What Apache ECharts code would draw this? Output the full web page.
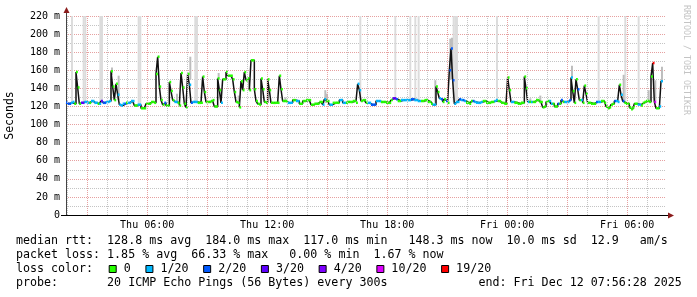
<!DOCTYPE html>
<html><head><meta charset="utf-8">
<script src="https://cdn.jsdelivr.net/npm/echarts@6/dist/echarts.min.js"></script>
<style>html,body{margin:0;padding:0;background:#fff}#c{width:697px;height:297px}</style>
</head><body><div id="c"></div>
<script>
// ---- data ----
const STEP_MIN = 5;                 // 300 s steps
const START_MIN = 116 + 28 / 60;    // Thu 01:56:28, minutes after Thu 00:00
const SPAN_MIN = 1800;              // 30 h window

const median = [
124,123,123,124,125,123,158,141,123,124,
124,125,125,124,124,126,126,124,124,123,
123,126,124,124,125,125,126,159,142,127,
145,133,122,121,123,123,124,124,124,126,
126,121,121,122,122,118,118,118,123,123,
123,125,125,124,156,175,142,127,122,124,
121,121,147,137,127,125,125,124,121,157,
141,123,119,156,144,124,125,125,125,124,
124,124,153,136,125,125,125,126,127,120,
120,151,138,124,150,150,158,154,154,154,
150,136,125,124,119,148,138,158,149,151,
138,171,171,139,126,123,122,151,139,125,
124,150,138,124,124,124,124,124,154,139,
126,126,126,124,124,124,127,127,126,126,
123,123,126,126,127,127,127,122,122,123,
123,123,125,125,122,128,126,126,122,122,
124,124,124,124,127,127,124,124,124,125,
125,125,126,126,124,145,138,126,127,127,
124,124,124,122,122,122,126,126,126,125,
125,125,124,124,124,127,129,129,128,126,
126,127,127,127,127,127,127,128,128,127,
127,126,126,126,126,127,127,125,125,123,
122,122,142,136,129,128,125,128,126,124,
160,184,149,123,125,125,128,127,127,126,
124,124,123,126,126,125,124,124,124,125,
126,126,124,124,124,125,125,126,127,126,
126,124,124,123,123,152,138,125,125,124,
124,123,123,124,124,153,140,125,125,125,
125,125,127,127,125,125,119,120,125,126,
126,123,123,120,120,123,123,127,125,125,
125,125,127,152,137,124,150,139,127,127,
124,143,134,124,124,123,123,123,125,125,
125,126,126,124,120,118,119,122,123,126,
126,125,144,133,126,124,123,123,119,117,
119,123,123,122,122,121,124,125,126,126,
125,153,168,125,118,118,120,148
];

// lost pings out of 20 per step
const loss = [
2,2,2,1,1,0,0,0,0,3,
3,1,1,1,0,1,1,1,1,0,
1,3,2,2,1,1,1,0,0,0,
0,1,1,1,1,2,0,1,1,1,
1,0,0,1,1,0,0,0,0,0,
0,0,0,0,0,0,0,0,0,2,
0,0,0,0,0,1,1,0,0,0,
0,0,0,0,1,2,1,1,1,0,
0,0,0,0,0,0,0,0,0,0,
0,0,0,1,0,0,0,0,0,0,
0,0,0,0,0,0,0,0,0,0,
0,0,0,0,0,0,0,0,0,0,
0,0,0,0,0,0,0,0,0,0,
0,0,0,1,1,1,0,0,1,1,
0,0,0,0,0,0,0,0,0,0,
0,0,0,0,1,1,0,0,1,1,
0,0,0,0,1,1,1,1,0,0,
0,0,0,0,0,1,1,0,0,0,
0,1,1,2,2,2,1,1,1,0,
0,0,0,0,0,0,3,3,2,0,
0,1,1,1,1,1,1,2,2,1,
1,1,1,0,0,0,0,0,0,0,
1,1,0,0,1,2,0,0,2,0,
2,2,2,1,1,1,2,1,2,1,
0,0,0,0,2,1,1,1,1,1,
0,0,0,0,0,0,0,1,1,0,
0,0,0,0,0,0,0,1,1,0,
0,0,0,0,0,0,0,1,0,1,
0,0,0,0,0,0,0,0,0,0,
1,1,0,0,0,2,0,2,0,1,
1,1,2,1,0,0,0,2,0,1,
0,0,0,0,0,0,0,0,2,1,
1,0,0,0,0,0,0,0,0,2,
1,1,0,1,2,0,0,0,0,0,
0,0,0,1,1,0,0,0,0,0,
0,0,19,10,0,0,1,1
];

const lossLevels = [0, 1, 2, 3, 4, 10, 19];
const lossLabels = ['0', '1/20', '2/20', '3/20', '4/20', '10/20', '19/20'];
const lossColors = ['#26ff00', '#00b8ff', '#0059ff', '#5e00ff', '#7e00ff', '#dd00ff', '#ff0000'];

// smoke reaching the top of the graph: [step, low ms]
const tallSmoke = [[3,125],[10,125],[11,125],[20,124],[21,124],[43,123],[44,123],[77,126],[78,126],
  [176,127],[197,128],[206,128],[209,128],[211,128],[232,125],[233,124],[234,124],[258,127],
  [319,125],[335,125],[343,123]];
// visible ping spread: [step, low ms, high ms]
const midSmoke = [[27,155,163],[31,127,154],[66,124,134],[74,150,175],[91,150,157],[103,124,132],
  [131,125,130],[155,124,138],[156,124,134],[221,124,149],[230,150,195],[231,150,196],
  [278,124,129],[284,125,132],[303,152,165],[334,127,155],[349,126,138],[353,126,149],[357,149,164]];

const hourTicks = [];      // minutes after Thu 00:00 of each full hour in the window
for (let h = 2; h <= 31; h++) hourTicks.push(h * 60);
const timeLabelMinutes = [360, 720, 1080, 1440, 1800];
const timeLabels = ['Thu 06:00', 'Thu 12:00', 'Thu 18:00', 'Fri 00:00', 'Fri 06:00'];

const statsLines = [
  'median rtt:  128.8 ms avg  184.0 ms max  117.0 ms min   148.3 ms now  10.0 ms sd  12.9   am/s',
  'packet loss: 1.85 % avg  66.33 % max   0.00 % min  1.67 % now',
  'loss color:',
  'probe:       20 ICMP Echo Pings (56 Bytes) every 300s             end: Fri Dec 12 07:56:28 2025'
];

// ---- build ----
const MONO = '"DejaVu Sans Mono", monospace';
function colorIdx(l) { let k = 0; lossLevels.forEach((lv, j) => { if (l >= lv) k = j; }); return k; }
const tOf = i => START_MIN + i * STEP_MIN;

const lineData = median.map((v, i) => [tOf(i), v]);
lineData.push([tOf(median.length), median[median.length - 1]]);
const segData = median.map((v, i) => [tOf(i), v, colorIdx(loss[i])]);
const tallData = tallSmoke.map(([i, lo]) => [tOf(i), lo, 220]);
const midData = midSmoke.map(([i, lo, hi]) => [tOf(i), lo, hi]);

function rectItem(fill) {
  return function (params, api) {
    const t = api.value(0), lo = api.value(1), hi = api.value(2);
    const a = api.coord([t, hi]), b = api.coord([t + STEP_MIN, lo]);
    return { type: 'rect', shape: { x: a[0], y: a[1], width: b[0] - a[0] + 0.3, height: b[1] - a[1] },
      style: { fill: fill } };
  };
}

const minorHours = hourTicks.filter(m => m % 180 !== 0);
const majorHours = hourTicks.filter(m => m % 180 === 0);
const vGrid = (vals, color) => ({
  silent: true, symbol: ['none', 'none'], label: { show: false }, animation: false,
  lineStyle: { color: color, width: 1, type: [1, 1] },
  data: vals.map(m => ({ xAxis: m }))
});

const chart = echarts.init(document.getElementById('c'), null, { renderer: 'canvas' });
chart.setOption({
  animation: false,
  backgroundColor: '#ffffff',
  grid: { left: 66, right: 31, top: 16, bottom: 82, containLabel: false, outerBoundsMode: 'none' },
  xAxis: {
    type: 'value', min: START_MIN, max: START_MIN + SPAN_MIN,
    axisLine: { show: true, onZero: false, lineStyle: { color: '#000', width: 1 } },
    axisTick: { show: false },
    splitLine: { show: false },
    axisLabel: { show: true, customValues: timeLabelMinutes, margin: 5,
      formatter: v => timeLabels[timeLabelMinutes.indexOf(Math.round(v))] || '',
      fontFamily: MONO, fontSize: 10, color: '#000' }
  },
  yAxis: {
    type: 'value', min: 0, max: 220, interval: 20,
    name: 'Seconds', nameLocation: 'middle', nameGap: 50, nameRotate: 90,
    nameTextStyle: { fontFamily: MONO, fontSize: 11.5, color: '#000' },
    axisLine: { show: true, onZero: false, lineStyle: { color: '#444', width: 1 } },
    axisTick: { show: false },
    axisLabel: { margin: 6, fontFamily: MONO, fontSize: 10, color: '#000',
      formatter: v => (v === 0 ? '0' : v + ' m') },
    splitLine: { show: true, lineStyle: { color: '#e6a0a0', width: 1, type: [1, 1] } },
    minorTick: { show: false, splitNumber: 2 },
    minorSplitLine: { show: true, lineStyle: { color: '#c4c4c4', width: 1, type: [1, 1] } }
  },
  series: [
    { type: 'line', name: 'grid-minor', data: [], z: 0, silent: true, markLine: vGrid(minorHours, '#c4c4c4') },
    { type: 'line', name: 'grid-major', data: [], z: 0, silent: true, markLine: vGrid(majorHours, '#e6a0a0') },
    { type: 'custom', name: 'smoke-tall', renderItem: rectItem('#dcdcdc'), data: tallData,
      encode: { x: 0, y: [1, 2] }, clip: true, silent: true, z: 1 },
    { type: 'custom', name: 'smoke', renderItem: rectItem('#bdbdbd'), data: midData,
      encode: { x: 0, y: [1, 2] }, clip: true, silent: true, z: 2 },
    { type: 'line', name: 'median', data: lineData, step: 'end', showSymbol: false, symbol: 'none',
      lineStyle: { color: '#111', width: 1.5 }, silent: true, z: 3 },
    { type: 'custom', name: 'loss', data: segData, encode: { x: 0, y: 1 }, clip: true, silent: true, z: 4,
      renderItem: (params, api) => {
        const t = api.value(0), v = api.value(1), k = api.value(2);
        const a = api.coord([t, v]), b = api.coord([t + STEP_MIN, v]);
        return { type: 'rect', shape: { x: a[0], y: a[1] - 1.25, width: b[0] - a[0] + 0.2, height: 2.5 },
          style: { fill: lossColors[k] } };
      } }
  ]
});

// ---- decorations: axis arrows, legend, texts ----
const origin = chart.convertToPixel({ xAxisIndex: 0, yAxisIndex: 0 }, [START_MIN, 0]);
const topPt = chart.convertToPixel({ xAxisIndex: 0, yAxisIndex: 0 }, [START_MIN, 220]);
const endPt = chart.convertToPixel({ xAxisIndex: 0, yAxisIndex: 0 }, [START_MIN + SPAN_MIN, 0]);
const ox = Math.round(origin[0]) + 0.5, oy = Math.round(origin[1]) + 0.5;
const g = [];
g.push({ type: 'line', shape: { x1: ox, y1: topPt[1], x2: ox, y2: topPt[1] - 6 }, style: { stroke: '#444', lineWidth: 1 } });
g.push({ type: 'polygon', shape: { points: [[ox - 3, topPt[1] - 3], [ox + 3, topPt[1] - 3], [ox, topPt[1] - 9]] }, style: { fill: '#8b1c1c' } });
g.push({ type: 'line', shape: { x1: origin[0] - 5, y1: oy, x2: origin[0], y2: oy }, style: { stroke: '#000', lineWidth: 1 } });
g.push({ type: 'line', shape: { x1: endPt[0], y1: oy, x2: endPt[0] + 3, y2: oy }, style: { stroke: '#000', lineWidth: 1 } });
g.push({ type: 'polygon', shape: { points: [[endPt[0] + 2, oy - 3], [endPt[0] + 2, oy + 3], [endPt[0] + 8, oy]] }, style: { fill: '#8b1c1c' } });

const TXT = '11.65px ' + MONO;
const rowY = [241, 255, 269, 283];
statsLines.forEach((s, r) => {
  g.push({ type: 'text', x: 16, y: rowY[r], style: { text: s, font: TXT, fill: '#000', verticalAlign: 'middle' } });
});
let bx = 108.7;
const CW = 7.01;
lossLabels.forEach((lab, j) => {
  g.push({ type: 'rect', shape: { x: bx + 0.5, y: 265.5, width: 7, height: 7 },
    style: { fill: lossColors[j], stroke: '#000', lineWidth: 1 } });
  g.push({ type: 'text', x: bx + 15, y: 269, style: { text: lab, font: TXT, fill: '#000', verticalAlign: 'middle' } });
  bx = bx + 15 + lab.length * CW + 14.7;
});
g.push({ type: 'text', x: 686, y: 5, rotation: -Math.PI / 2,
  style: { text: 'RRDTOOL / TOBI OETIKER', font: '8.3px ' + MONO, fill: '#c4c4c4', verticalAlign: 'middle', align: 'left' } });
chart.setOption({ graphic: { elements: g } });
</script>
</body></html>
